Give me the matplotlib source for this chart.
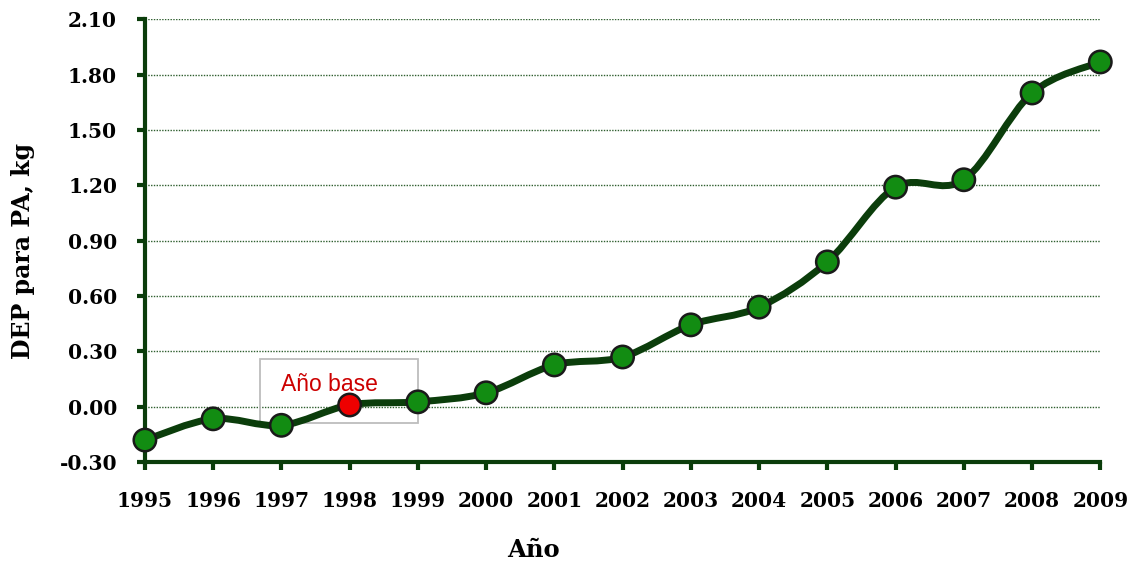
import matplotlib
matplotlib.use("Agg")
import matplotlib.pyplot as plt
from matplotlib.path import Path
from matplotlib.patches import PathPatch, Rectangle
import numpy as np

# values
years = [1995, 1996, 1997, 1998, 1999, 2000, 2001, 2002,
         2003, 2004, 2005, 2006, 2007, 2008, 2009]
dep = [-0.18, -0.065, -0.10, 0.01, 0.027, 0.076, 0.227, 0.27,
       0.444, 0.54, 0.785, 1.19, 1.23, 1.70, 1.868]
base_year = 1998
yticks = [-0.30, 0.00, 0.30, 0.60, 0.90, 1.20, 1.50, 1.80, 2.10]

dark = '#0b3d0b'
serif = ['DejaVu Serif']

fig = plt.figure(figsize=(11.32, 5.63), dpi=100)
ax = fig.add_axes([0.128, 0.179, 0.844, 0.787])

# smoothed line (Catmull-Rom style bezier through the points, like Excel)
x = np.array(years, dtype=float)
y = np.array(dep, dtype=float)
verts = [(x[0], y[0])]
codes = [Path.MOVETO]
n = len(x)
for i in range(n - 1):
    p0 = np.array([x[max(i - 1, 0)], y[max(i - 1, 0)]])
    p1 = np.array([x[i], y[i]])
    p2 = np.array([x[i + 1], y[i + 1]])
    p3 = np.array([x[min(i + 2, n - 1)], y[min(i + 2, n - 1)]])
    c1 = p1 + (p2 - p0) / 6.0
    c2 = p2 - (p3 - p1) / 6.0
    verts += [tuple(c1), tuple(c2), tuple(p2)]
    codes += [Path.CURVE4] * 3
ax.add_patch(PathPatch(Path(verts, codes), facecolor='none', edgecolor=dark,
                       lw=5, capstyle='round', joinstyle='round', zorder=3, clip_on=False))

# markers
cols = ['#ee0000' if yr == base_year else '#128c12' for yr in years]
ax.scatter(years, dep, s=260, c=cols, edgecolors='#1a1a1a', linewidths=1.8,
           zorder=4, clip_on=False)

# "Año base" box
ax.add_patch(Rectangle((1996.69, -0.087), 2.31, 0.347, facecolor='none',
                       edgecolor='#bdbdbd', lw=1.3, zorder=2))
ax.text(1997.0, 0.12, 'Año base', color='#cc0000', fontsize=16.5,
        family=['Liberation Sans', 'DejaVu Sans'],
        ha='left', va='center', zorder=5)

ax.set_xlim(1995, 2009)
ax.set_ylim(-0.30, 2.10)
ax.set_yticks(yticks)
ax.set_yticklabels([f'{v:.2f}' for v in yticks])
ax.set_xticks(years)
ax.set_xticklabels([str(v) for v in years])

for lab in ax.get_xticklabels() + ax.get_yticklabels():
    lab.set_family(serif)
    lab.set_fontweight('bold')
    lab.set_fontsize(14.5)

ax.yaxis.grid(True, linestyle=(0, (1, 1)), color='#2e5e2e', lw=1)
ax.set_axisbelow(True)

ax.spines['top'].set_visible(False)
ax.spines['right'].set_visible(False)
for s in ['left', 'bottom']:
    ax.spines[s].set_color(dark)
    ax.spines[s].set_linewidth(3)
ax.tick_params(axis='both', colors=dark, width=3, length=6, direction='out')
ax.tick_params(axis='x', pad=15, labelcolor='black')
ax.tick_params(axis='y', pad=14, labelcolor='black')

# axis titles (placed where the reference has them)
fig.text(533 / 1132, 6 / 563, 'Año', family=serif, fontweight='bold',
         fontsize=17.5, ha='center', va='baseline')
fig.text(23 / 1132, 1 - 251 / 563, 'DEP para PA, kg', family=serif,
         fontweight='bold', fontsize=17, rotation=90, ha='center', va='center')

fig.savefig('out.png', dpi=100)
